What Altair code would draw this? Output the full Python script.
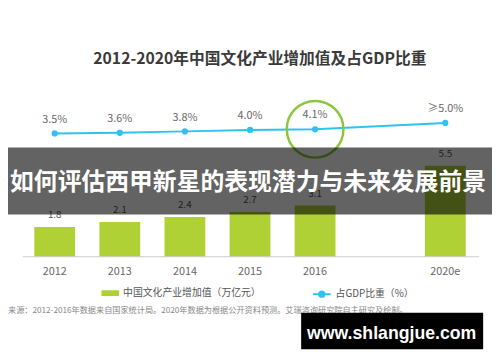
import altair as alt
import pandas as pd

# ---- data ----
years = ["2012", "2013", "2014", "2015", "2016", "2020e"]
x_domain = ["2012", "2013", "2014", "2015", "2016", " ", "2020e"]
value_added = [1.8, 2.1, 2.4, 2.7, 3.1, 5.5]
value_labels = ["1.8", "2.1", "2.4", "2.7", "3.1", "5.5"]
gdp_share = [3.5, 3.6, 3.8, 4.0, 4.1, 5.0]
share_labels = ["3.5%", "3.6%", "3.8%", "4.0%", "4.1%", "≥5.0%"]
bar_series = "中国文化产业增加值（万亿元）"
line_series = "占GDP比重（%）"
highlight_year = "2016"
title_text = ["2012-2020年中国文化产业增加值及占GDP比重"]
source_text = ["来源：2012-2016年数据来自国家统计局。2020年数据为根据公开资料预测。艾瑞咨询研究院自主研究及绘制。"]
overlay_text = ["如何评估西甲新星的表现潜力与未来发展前景"]
watermark_text = ["www.shlangjue.com"]
baseline_value = [0]

bars_df = pd.DataFrame({"year": years, "value": value_added, "label": value_labels, "series": bar_series})
line_df = pd.DataFrame({"year": years, "share": gdp_share, "label": share_labels, "series": line_series})
hl_df = line_df[line_df["year"] == highlight_year]

W, H = 492, 346
FONT = "Noto Sans CJK SC"
GREEN = "#afd136"
CYAN = "#2ec3ef"
RING = "#8cc63f"

x_scale = alt.Scale(domain=x_domain, paddingInner=0.373, paddingOuter=0.404)
x_axis = alt.Axis(title=None, orient="bottom", offset=-96, domain=False, ticks=False,
                  labelAngle=0, labelFont=FONT, labelFontSize=11, labelColor="#666666",
                  labelPadding=9, grid=False)
x_enc = alt.X("year:N", scale=x_scale, axis=x_axis)
ybar = alt.Scale(domain=[-5.714, 14.88], zero=False, nice=False)
yline = alt.Scale(domain=[-27.54, 20.99], zero=False, nice=False)

bars = alt.Chart(bars_df).mark_bar().encode(
    x=x_enc,
    y=alt.Y("value:Q", scale=ybar, axis=None),
    color=alt.Color("series:N", scale=alt.Scale(domain=[bar_series], range=[GREEN]),
                    legend=alt.Legend(orient="none", legendX=95, legendY=278, title=None,
                                      direction="horizontal", padding=0,
                                      symbolType="M-1,-0.33H1V0.33H-1Z", symbolSize=324,
                                      symbolStrokeWidth=0, labelFont=FONT, labelFontSize=10,
                                      labelColor="#555555", labelLimit=400, labelOffset=4)),
)

bar_labels = alt.Chart(bars_df).mark_text(font=FONT, fontSize=10, color="#555555",
                                          baseline="middle", dy=-12).encode(
    x=x_enc, y=alt.Y("value:Q", scale=ybar, axis=None), text="label:N")

base_rule = alt.Chart(pd.DataFrame({"v": baseline_value})).mark_rule(color="#cccccc", strokeWidth=1).encode(
    x=alt.value(15), x2=alt.value(479), y=alt.Y("v:Q", scale=ybar, axis=None))

line = alt.Chart(line_df).mark_line(strokeWidth=2).encode(
    x=x_enc,
    y=alt.Y("share:Q", scale=yline, axis=None),
    stroke=alt.Stroke("series:N", scale=alt.Scale(domain=[line_series], range=[CYAN]),
                      legend=alt.Legend(orient="none", legendX=309, legendY=278, title=None,
                                        direction="horizontal", padding=0,
                                        symbolType="M-1,0H1M-0.3,0A0.3,0.3 0 1,0 0.3,0A0.3,0.3 0 1,0 -0.3,0Z",
                                        symbolSize=324, symbolStrokeWidth=2,
                                        symbolFillColor=CYAN,
                                        labelFont=FONT, labelFontSize=10,
                                        labelColor="#555555", labelLimit=400, labelOffset=4)),
)

points = alt.Chart(line_df).mark_circle(size=40, color=CYAN, opacity=1).encode(
    x=x_enc, y=alt.Y("share:Q", scale=yline, axis=None))

line_labels = alt.Chart(line_df).mark_text(font=FONT, fontSize=11, color="#666666",
                                           baseline="middle", dy=-14).encode(
    x=x_enc, y=alt.Y("share:Q", scale=yline, axis=None), text="label:N")

ring = alt.Chart(hl_df).mark_point(shape="circle", size=3318, filled=False, color=RING,
                                   strokeWidth=2.5, opacity=1).encode(
    x=x_enc, y=alt.Y("share:Q", scale=yline, axis=None))

title = alt.Chart(pd.DataFrame({"t": title_text})).mark_text(
    font=FONT, fontSize=16, fontWeight="bold", color="#3a3a3a", align="center", baseline="middle").encode(
    x=alt.value(256), y=alt.value(49), text="t:N")

source = alt.Chart(pd.DataFrame({"t": source_text})).mark_text(
    font=FONT, fontSize=8.3, color="#888888", align="left", baseline="middle").encode(
    x=alt.value(0), y=alt.value(305), text="t:N")

band = alt.Chart(pd.DataFrame({"t": overlay_text})).mark_rect(color="black", opacity=0.61).encode(
    x=alt.value(0), x2=alt.value(W), y=alt.value(139), y2=alt.value(207))

band_text = alt.Chart(pd.DataFrame({"t": overlay_text})).mark_text(
    font=FONT, fontSize=24.2, fontWeight="bold", color="white", align="center", baseline="middle").encode(
    x=alt.value(244), y=alt.value(175), text="t:N")

wm_box = alt.Chart(pd.DataFrame({"t": watermark_text})).mark_rect(color="black", opacity=1).encode(
    x=alt.value(298), x2=alt.value(483), y=alt.value(307), y2=alt.value(344))

wm_text = alt.Chart(pd.DataFrame({"t": watermark_text})).mark_text(
    font="Liberation Sans", fontSize=18, fontWeight="bold", color="white", align="center", baseline="middle").encode(
    x=alt.value(390), y=alt.value(329), text="t:N")

chart = alt.layer(
    bars, bar_labels, base_rule, line, points, line_labels, ring, title, source,
    band, band_text, wm_box, wm_text
).resolve_scale(y="independent").properties(
    width=W, height=H, autosize=alt.AutoSizeParams(type="none"), padding=0, background="white"
).configure_view(stroke=None)

chart.save("out.html", embed_options={"renderer": "svg", "actions": False})
